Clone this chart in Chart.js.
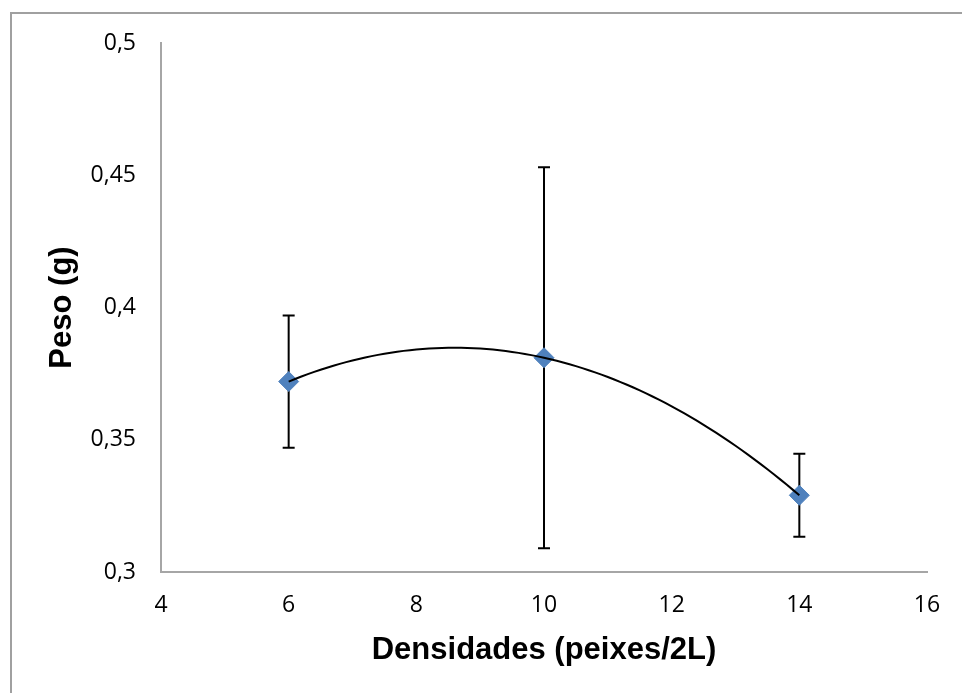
<!DOCTYPE html>
<html>
<head>
<meta charset="utf-8">
<script src="https://cdn.jsdelivr.net/npm/chart.js@4/dist/chart.umd.min.js"></script>
<style>
  html, body { margin: 0; padding: 0; background: #fff; overflow: hidden; }
  #frame { position: absolute; left: 10px; top: 12px; width: 1000px; height: 1000px; border: 2px solid #a0a0a0; }
  #wrap { position: absolute; left: 0; top: 0; width: 962px; height: 693px; }
</style>
</head>
<body>
<div id="frame"></div>
<div id="wrap"><canvas id="chart" width="962" height="693"></canvas></div>
<script>
// densidades (peixes/2L)
var densidades = [6, 10, 14];
// peso medio (g)
var peso = [0.372, 0.381, 0.329];
// desvio (barras de erro)
var desvio = [0.025, 0.072, 0.0157];

var yTicks = { min: 0.3, max: 0.5, step: 0.05 };
var xTicks = { min: 4, max: 16, step: 2 };

// polynomial trendline (order 2), least squares on the points
function polyFit2(xs, ys) {
    var n = xs.length, s = [0, 0, 0, 0, 0], t = [0, 0, 0];
    for (var i = 0; i < n; i++) {
        var p = 1;
        for (var k = 0; k < 5; k++) { s[k] += p; if (k < 3) t[k] += p * ys[i]; p *= xs[i]; }
    }
    var m = [[s[0], s[1], s[2], t[0]], [s[1], s[2], s[3], t[1]], [s[2], s[3], s[4], t[2]]];
    for (var c = 0; c < 3; c++) {
        for (var r = c + 1; r < 3; r++) {
            var f = m[r][c] / m[c][c];
            for (var j = c; j < 4; j++) m[r][j] -= f * m[c][j];
        }
    }
    var a = [0, 0, 0];
    for (var r2 = 2; r2 >= 0; r2--) {
        var v = m[r2][3];
        for (var j2 = r2 + 1; j2 < 3; j2++) v -= m[r2][j2] * a[j2];
        a[r2] = v / m[r2][r2];
    }
    return a;
}

var coef = polyFit2(densidades, peso);
var trend = [];
var x0 = Math.min.apply(null, densidades), x1 = Math.max.apply(null, densidades);
for (var k = 0; k <= 80; k++) {
    var xv = x0 + (x1 - x0) * k / 80;
    trend.push({ x: xv, y: coef[0] + coef[1] * xv + coef[2] * xv * xv });
}

var points = densidades.map(function(x, i) { return { x: x, y: peso[i] }; });

// error bars, drawn under the markers
var errorBars = {
    id: 'errorBars',
    beforeDatasetsDraw: function(chart) {
        var ctx = chart.ctx, xs = chart.scales.x, ys = chart.scales.y;
        ctx.save();
        ctx.strokeStyle = '#000';
        ctx.lineWidth = 2;
        densidades.forEach(function(x, i) {
            var px = xs.getPixelForValue(x);
            var top = ys.getPixelForValue(peso[i] + desvio[i]);
            var bot = ys.getPixelForValue(peso[i] - desvio[i]);
            ctx.beginPath();
            ctx.moveTo(px, top); ctx.lineTo(px, bot);
            ctx.moveTo(px - 6, top); ctx.lineTo(px + 6, top);
            ctx.moveTo(px - 6, bot); ctx.lineTo(px + 6, bot);
            ctx.stroke();
        });
        ctx.restore();
    }
};

var tickFont = { family: '"Open Sans", sans-serif', size: 23 };
var titleFont = { family: '"Liberation Sans", Arial, sans-serif', size: 31, weight: 'bold' };

new Chart(document.getElementById('chart').getContext('2d'), {
    type: 'scatter',
    data: {
        datasets: [
            {
                label: 'Tendência',
                type: 'line',
                data: trend,
                borderColor: '#000',
                borderWidth: 2,
                pointRadius: 0,
                fill: false,
                tension: 0,
                order: 0
            },
            {
                label: 'Peso',
                data: points,
                backgroundColor: '#4f81bd',
                borderColor: '#4f81bd',
                pointStyle: 'rectRot',
                pointRadius: 10,
                pointHoverRadius: 10,
                order: 1
            }
        ]
    },
    options: {
        responsive: false,
        animation: false,
        events: [],
        layout: { padding: { left: 0, top: 43, right: 35, bottom: 0 } },
        plugins: { legend: { display: false }, tooltip: { enabled: false } },
        scales: {
            x: {
                type: 'linear',
                min: xTicks.min, max: xTicks.max,
                grid: { display: false, drawTicks: false },
                border: { display: true, color: '#a6a6a6', width: 2 },
                ticks: { stepSize: xTicks.step, font: tickFont, color: '#000', padding: 20 },
                title: { display: true, text: 'Densidades (peixes/2L)', font: titleFont, color: '#000', padding: { top: 0, bottom: 24 } },
                afterFit: function(s) { s.height = 121; }
            },
            y: {
                min: yTicks.min, max: yTicks.max,
                grid: { display: false, drawTicks: false },
                border: { display: true, color: '#a6a6a6', width: 2 },
                ticks: {
                    stepSize: yTicks.step, font: tickFont, color: '#000', padding: 25,
                    callback: function(v) { return String(+v.toFixed(2)).replace('.', ','); }
                },
                title: { display: true, text: 'Peso (g)', font: titleFont, color: '#000', padding: { top: 44, bottom: 0 } },
                afterFit: function(s) { s.width = 161; }
            }
        }
    },
    plugins: [errorBars]
});
</script>
</body>
</html>
